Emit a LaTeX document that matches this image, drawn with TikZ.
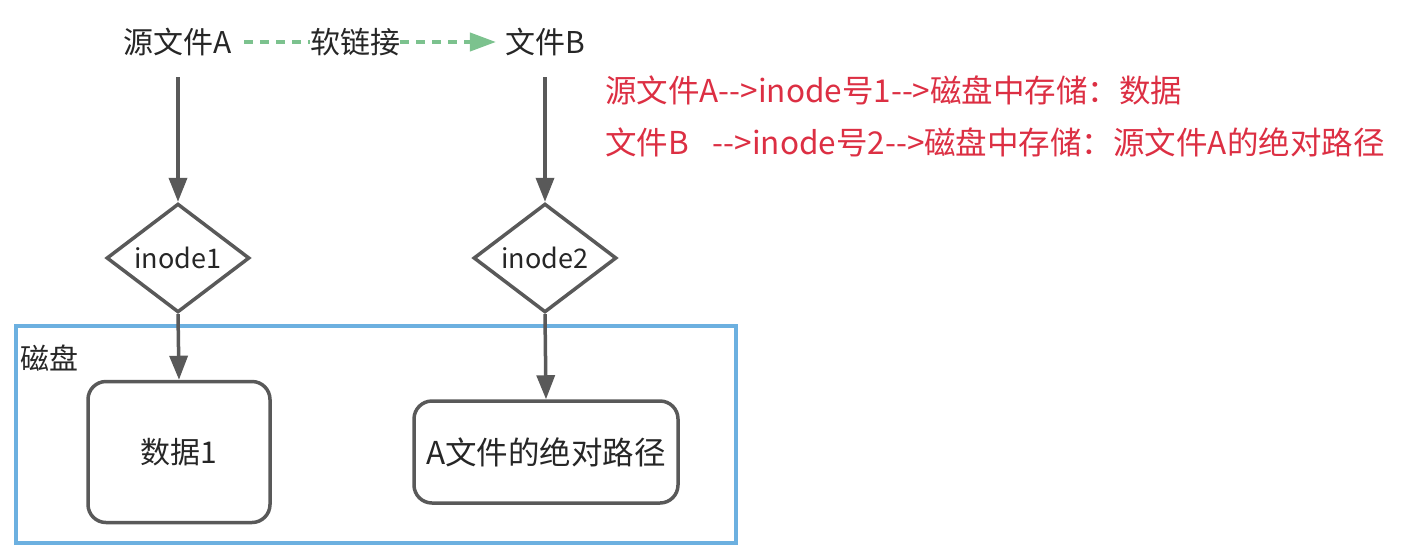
\documentclass[tikz,border=0pt]{standalone}
\usepackage{fontspec}
\setmainfont{Noto Sans CJK SC}
\usetikzlibrary{shapes.geometric,arrows.meta}
\definecolor{gline}{HTML}{595959}
\definecolor{gtext}{HTML}{262626}
\definecolor{bline}{HTML}{6CB0E0}
\definecolor{green1}{HTML}{7CC28E}
\definecolor{red1}{HTML}{DC2F43}
\begin{document}
\begin{tikzpicture}[x=1pt,y=-1pt,
  every node/.style={text=gtext, inner sep=0pt},
  title/.style={font=\fontsize{30}{36}\selectfont},
  redtxt/.style={font=\fontsize{31.5}{36}\selectfont, text=red1, anchor=west},
  dia/.style={draw=gline, line width=3.5pt, shape=diamond, minimum width=143pt, minimum height=105pt, font=\fontsize{27}{32}\selectfont},
  store/.style={draw=gline, line width=3.5pt, rounded corners=18pt, font=\fontsize{30}{35}\selectfont},
  garrow/.style={draw=gline, line width=3.5pt, -{Triangle[length=24pt,width=18pt]}},
  link/.style={draw=green1, line width=4pt, dash pattern=on 9pt off 7pt},
  disk/.style={draw=bline, line width=3.5pt}
]
\useasboundingbox (0,0) rectangle (1415,547);
\node[disk, minimum width=720pt, minimum height=217pt, anchor=north west] (D) at (14,324) {};
\node[font=\fontsize{29}{34}\selectfont, anchor=west] (DL) at (20,358) {磁盘};

\node[title] (A) at (178,42) {源文件A};
\node[title] (B) at (545,42) {文件B};
\node[title] (L) at (355,42) {软链接};
\coordinate (As) at (178,77);
\coordinate (Bs) at (545,77);

\draw[link] (A.east) ++(12,0) coordinate (Ae) -- (L.west);
\draw[link, -{Triangle[length=26pt,width=18pt]}] (L.east) -- ([xshift=-9pt]B.west);

\node[dia] (d1) at (178,258) {inode1};
\node[dia] (d2) at (545,258) {inode2};

\node[store, minimum width=182pt, minimum height=141pt] (s1) at (179,452) {数据1};
\node[store, minimum width=264pt, minimum height=102pt, font=\fontsize{31.5}{37}\selectfont] (s2) at (546,452) {A文件的绝对路径};

\draw[garrow] (As) -- (d1.north);
\draw[garrow] (Bs) -- (d2.north);
\draw[garrow] (d1.south) -- (s1.north);
\draw[garrow] (d2.south) -- (s2.north);

\node[redtxt] (r1) at (605,90) {源文件A-{}-{}>inode号1-{}-{}>磁盘中存储：数据};
\node[redtxt] (r2) at (605,142) {文件B\hspace{24pt}-{}-{}>inode号2-{}-{}>磁盘中存储：源文件A的绝对路径};
\end{tikzpicture}
\end{document}
